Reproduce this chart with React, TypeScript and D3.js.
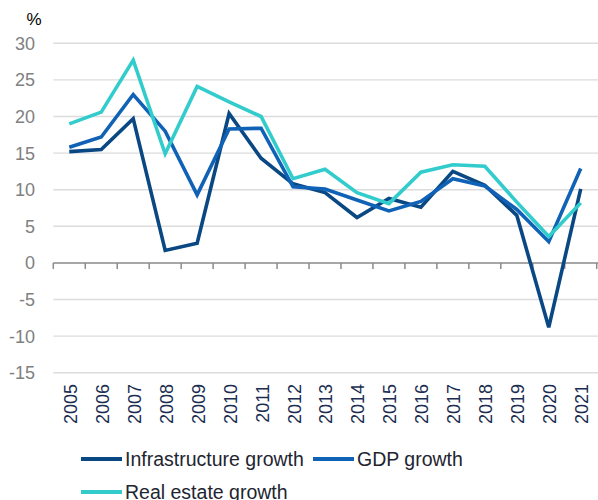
import React from "react";
import * as d3 from "d3";

const years = ["2005","2006","2007","2008","2009","2010","2011","2012","2013","2014","2015","2016","2017","2018","2019","2020","2021"];
const infrastructure = [15.2, 15.5, 19.7, 1.7, 2.7, 20.4, 14.3, 10.8, 9.6, 6.2, 8.8, 7.6, 12.5, 10.6, 6.5, -8.8, 10.1];
const gdp = [15.8, 17.2, 23.0, 18.0, 9.3, 18.3, 18.4, 10.4, 10.1, 8.6, 7.1, 8.4, 11.5, 10.5, 7.3, 2.9, 12.9];
const realEstate = [19.0, 20.6, 27.7, 14.9, 24.1, 22.0, 20.0, 11.5, 12.8, 9.6, 8.1, 12.4, 13.4, 13.2, 8.3, 3.6, 8.2];
const yTicks = [30, 25, 20, 15, 10, 5, 0, -5, -10, -15];
const seriesNames = ["Infrastructure growth", "GDP growth", "Real estate growth"];
const seriesColors = ["#0a4884", "#1062b6", "#33cccc"];

export default function App() {
  const W = 598, H = 500;
  const x0 = 53.3, x1 = 596.7;
  const x = d3.scaleBand<string>().domain(years).range([x0, x1]);
  const y = d3.scaleLinear().domain([-15, 30]).range([372.7, 43.3]);
  const cx = (d: string) => (x(d) as number) + x.bandwidth() / 2;
  const line = d3.line<number>().x((_, i) => cx(years[i])).y((v) => y(v));
  const data = [infrastructure, gdp, realEstate];
  const font = "'Liberation Sans', Arial, sans-serif";
  const boundaries = years.map((d) => x(d) as number).concat([x1]);

  return (
    <svg width={W} height={H} style={{ position: "absolute", left: 0, top: 0 }} fontFamily={font}>
      <rect width={W} height={H} fill="#fff" />
      {yTicks.filter((t) => t !== 0).map((t) => (
        <line key={"g" + t} x1={x0} x2={W} y1={y(t)} y2={y(t)} stroke="#dcdcdc" strokeWidth={1.4} />
      ))}
      {yTicks.map((t) => (
        <text key={"t" + t} x={35} y={y(t)} dy="0.36em" textAnchor="end" fontSize={18} fill="#808080">{t}</text>
      ))}
      <text x={34} y={25} textAnchor="middle" fontSize={17} fill="#000">%</text>
      <line x1={x0} x2={W} y1={y(0)} y2={y(0)} stroke="#8a8a8a" strokeWidth={1.5} />
      {boundaries.map((b, i) => (
        <line key={"tk" + i} x1={b} x2={b} y1={y(0)} y2={y(0) + 6} stroke="#8a8a8a" strokeWidth={1.5} />
      ))}
      {years.map((d) => (
        <text key={"y" + d} transform={`translate(${cx(d) + 1},${384}) rotate(-90)`} textAnchor="end" dy="0.36em" fontSize={18} fill="#1b2d50">{d}</text>
      ))}
      {data.map((s, i) => (
        <path key={"s" + i} d={line(s) as string} fill="none" stroke={seriesColors[i]} strokeWidth={3.6} strokeLinejoin="miter" />
      ))}
      {/* legend */}
      <line x1={81} x2={122} y1={459} y2={459} stroke={seriesColors[0]} strokeWidth={4} />
      <text x={125} y={466} fontSize={19.5} fill="#1e2530">{seriesNames[0]}</text>
      <line x1={313} x2={354} y1={459} y2={459} stroke={seriesColors[1]} strokeWidth={4} />
      <text x={357} y={466} fontSize={19.5} fill="#1e2530">{seriesNames[1]}</text>
      <line x1={81} x2={122} y1={492} y2={492} stroke={seriesColors[2]} strokeWidth={4} />
      <text x={125} y={499} fontSize={19.5} fill="#1e2530">{seriesNames[2]}</text>
    </svg>
  );
}
